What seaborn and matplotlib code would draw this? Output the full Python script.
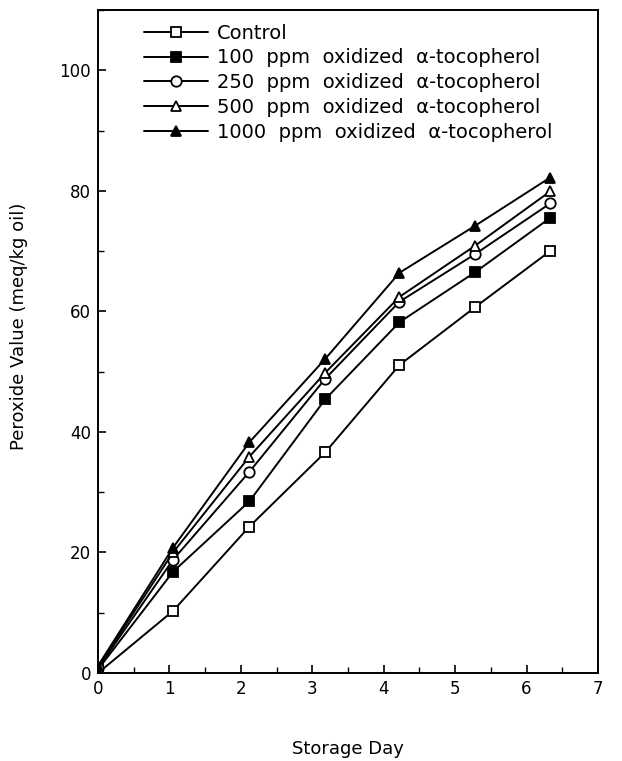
import matplotlib
matplotlib.use("Agg")
import matplotlib.pyplot as plt
from matplotlib.ticker import MultipleLocator
import pandas as pd
import seaborn as sns

# storage day positions as they sit in the figure
days = [0, 1.05, 2.12, 3.18, 4.22, 5.28, 6.33]

control = [0.0, 10.3, 24.3, 36.6, 51.1, 60.7, 70.0]
ppm_100 = [0.6, 16.8, 28.5, 45.4, 58.2, 66.5, 75.5]
ppm_250 = [0.8, 18.8, 33.4, 48.8, 61.6, 69.5, 77.9]
ppm_500 = [1.0, 20.0, 35.9, 49.8, 62.4, 70.9, 79.9]
ppm_1000 = [1.2, 20.8, 38.3, 52.1, 66.4, 74.2, 82.2]

labels = ["Control",
          "100  ppm  oxidized  \u03b1-tocopherol",
          "250  ppm  oxidized  \u03b1-tocopherol",
          "500  ppm  oxidized  \u03b1-tocopherol",
          "1000  ppm  oxidized  \u03b1-tocopherol"]
markers = ["s", "s", "o", "^", "^"]
filled = [False, True, False, False, True]

sns.set_style("ticks")
plt.rcParams["font.family"] = ["DejaVu Sans"]
plt.rcParams["text.color"] = "black"
plt.rcParams["axes.labelcolor"] = "black"
plt.rcParams["xtick.color"] = "black"
plt.rcParams["ytick.color"] = "black"

df = pd.DataFrame({"day": days * 5,
                   "pv": control + ppm_100 + ppm_250 + ppm_500 + ppm_1000,
                   "group": [l for l in labels for _ in days]})

fig = plt.figure(figsize=(6.22, 7.61), dpi=100)
ax = fig.add_axes([0.1576, 0.1156, 0.8038, 0.8713])

for lab, mk, fl in zip(labels, markers, filled):
    sub = df[df["group"] == lab]
    sns.lineplot(data=sub, x="day", y="pv", ax=ax, color="black", lw=1.4,
                 marker=mk, markersize=7.5, markeredgewidth=1.3,
                 markerfacecolor="black" if fl else "white",
                 markeredgecolor="black", label=lab)

ax.set_xlim(0, 7)
ax.set_ylim(0, 110)
ax.xaxis.set_major_locator(MultipleLocator(1))
ax.xaxis.set_minor_locator(MultipleLocator(0.5))
ax.yaxis.set_major_locator(MultipleLocator(20))
ax.yaxis.set_minor_locator(MultipleLocator(10))
ax.tick_params(which="major", direction="in", length=6, width=1.2, labelsize=12, pad=5)
ax.tick_params(which="minor", direction="in", length=4, width=1.0)
for s in ax.spines.values():
    s.set_linewidth(1.4)
    s.set_color("black")

ax.set_xlabel("Storage Day", fontsize=13, labelpad=30)
ax.set_ylabel("Peroxide Value (meq/kg oil)", fontsize=13)
ax.yaxis.set_label_coords(-0.14, 0.523)

ax.legend(loc="upper left", frameon=False, fontsize=14, handlelength=3.3,
          handletextpad=0.45, labelspacing=0.3, borderaxespad=0.3,
          bbox_to_anchor=(0.065, 1.0))

fig.savefig("out.png", dpi=100)
